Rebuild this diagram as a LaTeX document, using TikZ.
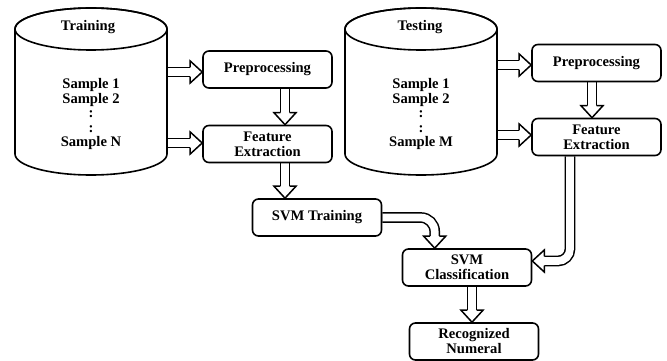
\documentclass[tikz,border=0pt]{standalone}
\usepackage{fontspec}
\setmainfont{Liberation Serif}
\usetikzlibrary{backgrounds}
\newcommand{\hhead}[2]{\draw[hd, shift={(#1)}, rotate=#2] (-12,4.6) -- (-12,11) -- (0,0) -- (-12,-11) -- (-12,-4.6);}
\begin{document}
\begin{tikzpicture}[x=1pt,y=-1pt,
  font=\fontsize{14.6}{15}\selectfont\bfseries,
  box/.style={draw, line width=1.6pt, rounded corners=6pt, fill=white, minimum width=129pt, minimum height=37pt, inner sep=0pt, align=center},
  shaft/.style={draw, line width=1.5pt, double=white, double distance=7.7pt},
  hd/.style={draw, line width=1.5pt, fill=white, line join=miter},
  cyl/.style={draw, line width=1.6pt, fill=white},
  cylarea/.style={minimum width=152pt, minimum height=167pt, inner sep=0pt},
  smp/.style={align=center, font=\fontsize{14.6}{14.5}\selectfont\bfseries}]
\useasboundingbox (0,0) rectangle (667,361);

% boxes
\node[box] (pre1) at (267.5,69.5) {Preprocessing};
\node[box] (fe1) at (267.5,144) {Feature\\Extraction};
\node[box] (svmt) at (317,217.5) {SVM Training};
\node[box] (svmc) at (467,267.5) {SVM\\Classification};
\node[box] (rec) at (474,341.5) {Recognized\\Numeral};
\node[box] (pre2) at (596.5,63) {Preprocessing};
\node[box] (fe2) at (596.5,137) {Feature\\Extraction};

% cylinders
\path[cyl] (15,29) -- (15,154) arc[start angle=180,end angle=360,x radius=76pt,y radius=21pt] -- (167,29) arc[start angle=0,end angle=180,x radius=76pt,y radius=21pt] -- cycle;
\draw[line width=1.6pt] (91,29) ellipse[x radius=76pt,y radius=21pt];
\node[cylarea] (train) at (91,91.5) {};
\node (trainlbl) at (88,27) {Training};
\node[smp] (trainsmp) at (91,114) {Sample 1\\Sample 2\\:\\:\\Sample N};

\path[cyl] (345,29) -- (345,154) arc[start angle=180,end angle=360,x radius=76pt,y radius=21pt] -- (497,29) arc[start angle=0,end angle=180,x radius=76pt,y radius=21pt] -- cycle;
\draw[line width=1.6pt] (421,29) ellipse[x radius=76pt,y radius=21pt];
\node[cylarea] (test) at (421,91.5) {};
\node (testlbl) at (420,27) {Testing};
\node[smp] (testsmp) at (421,114) {Sample 1\\Sample 2\\:\\:\\Sample M};

% hollow arrows
\begin{scope}[on background layer]
  % training branch
  \coordinate (t1) at ([yshift=-2.5pt]pre1.west);
  \draw[shaft] (train.east |- t1) -- ([xshift=-11pt]t1);
  \hhead{t1}{0}
  \coordinate (t2) at ([yshift=1pt]fe1.west);
  \draw[shaft] (train.east |- t2) -- ([xshift=-11pt]t2);
  \hhead{t2}{0}
  \coordinate (s3) at ([xshift=17.5pt]pre1.south);
  \coordinate (t3) at (s3 |- fe1.north);
  \draw[shaft] (s3) -- ([yshift=11pt]t3);
  \hhead{t3}{-90}
  \coordinate (s4) at ([xshift=17.5pt]fe1.south);
  \coordinate (t4) at (s4 |- svmt.north);
  \draw[shaft] (s4) -- ([yshift=11pt]t4);
  \hhead{t4}{-90}
  \coordinate (t5) at ([xshift=33pt]svmc.north west);
  \draw[shaft, rounded corners=14pt] (svmt.east) -- (svmt.east -| t5) -- ([yshift=11pt]t5);
  \hhead{t5}{-90}
  % testing branch
  \coordinate (u1) at ([yshift=-2pt]pre2.west);
  \draw[shaft] (test.east |- u1) -- ([xshift=-11pt]u1);
  \hhead{u1}{0}
  \coordinate (u2) at ([yshift=2pt]fe2.west);
  \draw[shaft] (test.east |- u2) -- ([xshift=-11pt]u2);
  \hhead{u2}{0}
  \coordinate (s8) at ([xshift=-4.5pt]pre2.south);
  \coordinate (u3) at (s8 |- fe2.north);
  \draw[shaft] (s8) -- ([yshift=11pt]u3);
  \hhead{u3}{-90}
  \coordinate (s6) at ([xshift=-26.5pt]fe2.south);
  \coordinate (t6) at ([yshift=6.5pt]svmc.east);
  \draw[shaft, rounded corners=12pt] (s6) -- (s6 |- t6) -- ([xshift=11pt]t6);
  \hhead{t6}{180}
  % output
  \coordinate (s7) at ([xshift=5pt]svmc.south);
  \coordinate (t7) at (s7 |- rec.north);
  \draw[shaft] (s7) -- ([yshift=11pt]t7);
  \hhead{t7}{-90}
\end{scope}
\end{tikzpicture}
\end{document}
